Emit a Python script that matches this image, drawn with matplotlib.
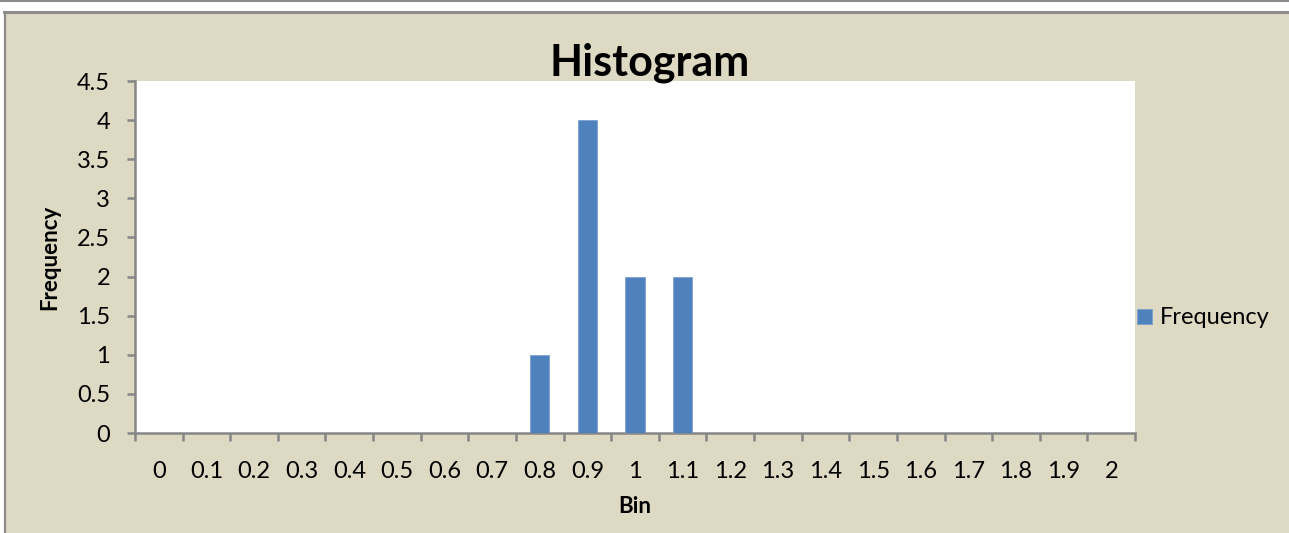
"""Excel-style histogram of bin frequencies."""

import matplotlib
matplotlib.use("Agg")
import matplotlib.pyplot as plt
from matplotlib.patches import Rectangle
import numpy as np

bins = ["0", "0.1", "0.2", "0.3", "0.4", "0.5", "0.6", "0.7", "0.8", "0.9", "1",
        "1.1", "1.2", "1.3", "1.4", "1.5", "1.6", "1.7", "1.8", "1.9", "2"]
frequency = [0, 0, 0, 0, 0, 0, 0, 0, 1, 4, 2, 2, 0, 0, 0, 0, 0, 0, 0, 0, 0]
y_ticks = [0, 0.5, 1, 1.5, 2, 2.5, 3, 3.5, 4, 4.5]

BG = "#DDD9C3"
BAR = "#4F81BD"
AXIS = "#868686"

plt.rcParams["font.family"] = ["Lato", "DejaVu Sans"]

W, H = 1289, 533
fig = plt.figure(figsize=(W / 100, H / 100), dpi=100)
fig.patch.set_facecolor("white")

# chart area background with border on top/left (clipped chart)
fig.patches.append(Rectangle((4 / W, 0), 1.0, (H - 12) / H, transform=fig.transFigure,
                             facecolor=BG, edgecolor="none", zorder=-5))
fig.add_artist(plt.Line2D([4 / W, 1], [(H - 12) / H] * 2, color="#8C8C8C", lw=2.2, zorder=-4))
fig.add_artist(plt.Line2D([4.5 / W] * 2, [0, (H - 12) / H], color="#8C8C8C", lw=1.6, zorder=-4))
fig.add_artist(plt.Line2D([0, 1], [(H - 0.5) / H] * 2, color="#8C8C8C", lw=1.5, zorder=-4))

left, right, top, bottom = 135, 1135, 81, 433
ax = fig.add_axes([left / W, (H - bottom) / H, (right - left) / W, (bottom - top) / H])
ax.set_zorder(1)
ax.set_facecolor("white")

x = np.arange(len(bins))
ax.bar(x, frequency, width=0.4, color=BAR, edgecolor="#7EA1D0", linewidth=0.6,
       label="Frequency", zorder=3)

ax.set_xlim(-0.5, len(bins) - 0.5)
ax.set_ylim(0, 4.5)
ax.set_yticks(y_ticks)
ax.set_yticklabels([f"{v:g}" for v in y_ticks])
ax.set_xticks(x)
ax.set_xticklabels(bins)
ax.set_xticks(np.arange(len(bins) + 1) - 0.5, minor=True)

for s in ["top", "right"]:
    ax.spines[s].set_visible(False)
for s in ["left", "bottom"]:
    ax.spines[s].set_color(AXIS)
    ax.spines[s].set_linewidth(1.8)

ax.tick_params(axis="x", which="major", length=0, pad=20, labelsize=17)
ax.tick_params(axis="x", which="minor", length=6, width=1.8, color=AXIS, direction="out")
ax.tick_params(axis="y", length=6, width=1.8, color=AXIS, pad=12, labelsize=17)

ax.set_xlabel("Bin", fontsize=16, fontweight="bold", labelpad=10)
ax.set_ylabel("Frequency", fontsize=16, fontweight="bold", labelpad=12)
fig.text(650 / W, (H - 63) / H, "Histogram", ha="center", va="center",
         fontsize=31, fontweight="bold")

fig.legend(loc="center left", bbox_to_anchor=(1128 / W, (H - 318) / H), frameon=False,
           fontsize=17, handlelength=0.6, handleheight=0.6, handletextpad=0.35,
           borderaxespad=0)

fig.savefig("out.png", dpi=100, facecolor=fig.get_facecolor())
